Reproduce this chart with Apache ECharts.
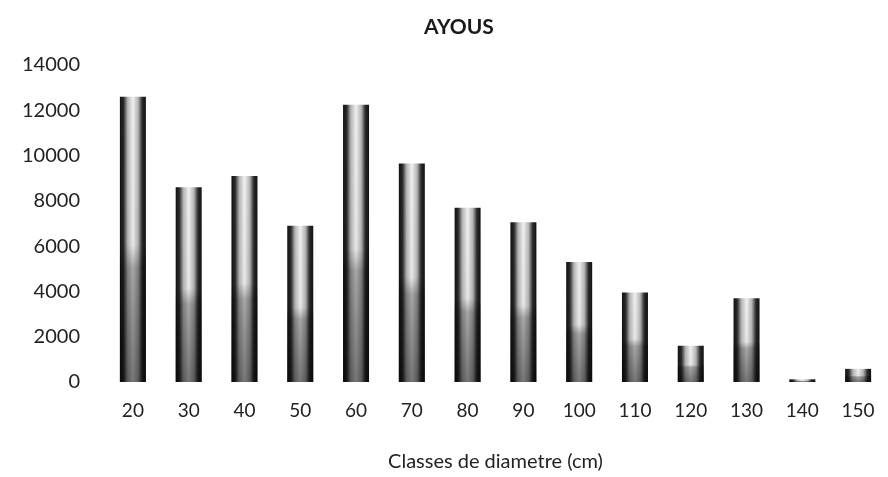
<!DOCTYPE html>
<html>
<head>
<meta charset="utf-8">
<script src="https://cdn.jsdelivr.net/npm/echarts@6/dist/echarts.min.js"></script>
<style>
html,body{margin:0;padding:0;background:#fff;}
#c{width:888px;height:477px;}
</style>
</head>
<body>
<div id="c"></div>
<script>
const categories = ['20','30','40','50','60','70','80','90','100','110','120','130','140','150'];
const values = [12600, 8600, 9100, 6900, 12250, 9650, 7700, 7050, 5300, 3950, 1600, 3700, 120, 580];
const yTicks = [0, 2000, 4000, 6000, 8000, 10000, 12000, 14000];
const titleText = 'AYOUS';
const xName = 'Classes de diametre (cm)';

const chart = echarts.init(document.getElementById('c'));
const font = 'Lato, "Open Sans", sans-serif';
chart.setOption({
  animation: false,
  backgroundColor: '#fff',
  title: {
    text: titleText, left: 419, top: 12,
    textStyle: {fontFamily: font, fontSize: 21, fontWeight: 'bold', color: '#1a1a1a'}
  },
  grid: {left: 105, right: 2, top: 65, bottom: 94},
  xAxis: {
    type: 'category', data: categories,
    axisLine: {show: false}, axisTick: {show: false},
    axisLabel: {fontFamily: font, fontSize: 19, color: '#222', margin: 19},
    name: xName, nameLocation: 'middle', nameGap: 70,
    nameTextStyle: {fontFamily: font, fontSize: 20, color: '#222'}
  },
  yAxis: {
    type: 'value', min: yTicks[0], max: yTicks[yTicks.length - 1], interval: 2000,
    splitLine: {show: false}, axisLine: {show: false}, axisTick: {show: false},
    axisLabel: {fontFamily: font, fontSize: 20, color: '#222', margin: 25,
      padding: [5, 0, 0, 0], formatter: v => String(v)}
  },
  series: [
    {
      type: 'bar', data: values, barWidth: 26, silent: true,
      itemStyle: {
        color: new echarts.graphic.LinearGradient(0, 0, 1, 0, [
          {offset: 0, color: '#111'},
          {offset: 0.14, color: '#2a2a2a'},
          {offset: 0.3, color: '#b5b5b5'},
          {offset: 0.5, color: '#f0f0f0'},
          {offset: 0.7, color: '#b5b5b5'},
          {offset: 0.86, color: '#2a2a2a'},
          {offset: 1, color: '#111'}
        ])
      }
    },
    {
      type: 'bar', data: values, barWidth: 26, barGap: '-100%', silent: true,
      itemStyle: {
        color: new echarts.graphic.LinearGradient(0, 0, 0, 1, [
          {offset: 0, color: 'rgba(0,0,0,0)'},
          {offset: 0.52, color: 'rgba(0,0,0,0.03)'},
          {offset: 0.6, color: 'rgba(0,0,0,0.3)'},
          {offset: 1, color: 'rgba(0,0,0,0.5)'}
        ])
      }
    }
  ]
});
</script>
</body>
</html>
